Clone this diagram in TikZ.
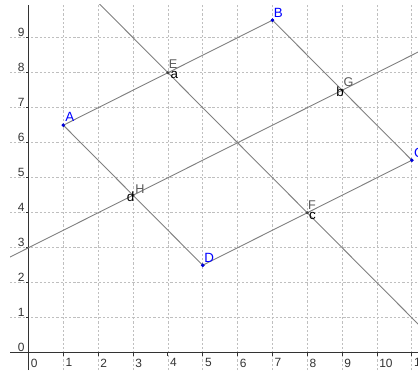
\documentclass[tikz,border=0pt]{standalone}
\usepackage{fontspec}
\setmainfont{Liberation Sans}
\usetikzlibrary{calc}
\begin{document}
\begin{tikzpicture}[x=0.871cm,y=0.875cm,
  gridline/.style={draw=black!25, dash pattern=on 1.6pt off 1.4pt, line width=0.55pt},
  axisline/.style={draw=black!80, line width=0.9pt},
  ticksty/.style={draw=black!80, line width=0.7pt},
  seg/.style={draw=black!50, line width=0.65pt},
  bpt/.style={circle, fill=blue!85!black, inner sep=0pt, minimum size=2.6pt},
  gpt/.style={circle, fill=black!75, inner sep=0pt, minimum size=2.4pt},
  blab/.style={text=blue, font=\fontsize{9.5}{9.5}\selectfont, inner sep=0pt},
  glab/.style={text=black!65, font=\fontsize{9}{9}\selectfont, inner sep=0pt},
  llab/.style={text=black, font=\fontsize{9.5}{9.5}\selectfont, inner sep=0pt},
  ticklab/.style={font=\fontsize{8.5}{8.5}\selectfont, text=black!80, inner sep=0pt}]
\useasboundingbox (-0.818,-0.494) rectangle (11.177,10.077);
\begin{scope}
\clip (-0.531,-0.494) rectangle (11.177,9.934);
\foreach \i in {1,...,11} \draw[gridline] (\i,-0.494) -- (\i,9.934);
\foreach \j in {1,...,9} \draw[gridline] (-0.531,\j) -- (11.177,\j);
\end{scope}
% axes
\coordinate (xl) at (-0.531,0);
\coordinate (xr) at (11.177,0);
\coordinate (yb) at (0,-0.494);
\coordinate (yt) at (0,9.934);
\draw[axisline] (xl) -- (xr);
\draw[axisline] (yb) -- (yt);
\foreach \i in {1,...,11} {
  \coordinate (xt\i) at (\i,0);
  \draw[ticksty] (xt\i) -- ++(0,-0.075cm);
}
\foreach \j in {1,...,9} {
  \coordinate (yt\j) at (0,\j);
  \draw[ticksty] (yt\j) -- ++(-0.075cm,0);
}
\foreach \i in {0,...,11}
  \node[ticklab, anchor=north west, xshift=0.05cm, yshift=-0.14cm] (xlab\i) at (\i,0) {\i};
\foreach \j in {0,...,9}
  \node[ticklab, anchor=south east, xshift=-0.09cm, yshift=0.02cm] (ylab\j) at (0,\j) {\j};
% points
\node[bpt] (A) at (1,6.5) {};
\node[bpt] (B) at (7,9.5) {};
\node[bpt] (C) at (11,5.5) {};
\node[bpt] (D) at (5,2.5) {};
\coordinate (E) at (4,8);
\coordinate (F) at (8,4);
\coordinate (G) at (9,7.5);
\coordinate (H) at (3,4.5);
% lines
\begin{scope}
\clip (-0.531,-0.494) rectangle (11.177,9.934);
\draw[seg] ($(E)!-2!(F)$) -- ($(F)!-2!(E)$);
\draw[seg] ($(H)!-2!(G)$) -- ($(G)!-2!(H)$);
\end{scope}
\draw[seg] (A.center) -- (B.center) -- (C.center) -- (D.center) -- (A.center);
\node[bpt] at (A) {};
\node[bpt] at (B) {};
\node[bpt] at (C) {};
\node[bpt] at (D) {};
\node[gpt] (Ep) at (E) {};
\node[gpt] (Fp) at (F) {};
\node[gpt] (Gp) at (G) {};
\node[gpt] (Hp) at (H) {};
% labels
\node[blab] (lA) at ($(A)+(0.16cm,0.2cm)$) {A};
\node[blab] (lB) at ($(B)+(0.15cm,0.19cm)$) {B};
\node[blab] (lC) at ($(C)+(0.18cm,0.19cm)$) {C};
\node[blab] (lD) at ($(D)+(0.16cm,0.19cm)$) {D};
\node[glab] (lE) at ($(E)+(0.13cm,0.21cm)$) {E};
\node[llab] (la) at ($(E)+(0.16cm,-0.05cm)$) {a};
\node[glab] (lF) at ($(F)+(0.12cm,0.2cm)$) {F};
\node[llab] (lc) at ($(F)+(0.13cm,-0.09cm)$) {c};
\node[glab] (lG) at ($(G)+(0.16cm,0.19cm)$) {G};
\node[llab] (lb) at ($(G)+(-0.05cm,-0.03cm)$) {b};
\node[glab] (lH) at ($(H)+(0.17cm,0.16cm)$) {H};
\node[llab] (ld) at ($(H)+(-0.06cm,-0.03cm)$) {d};
\end{tikzpicture}
\end{document}
